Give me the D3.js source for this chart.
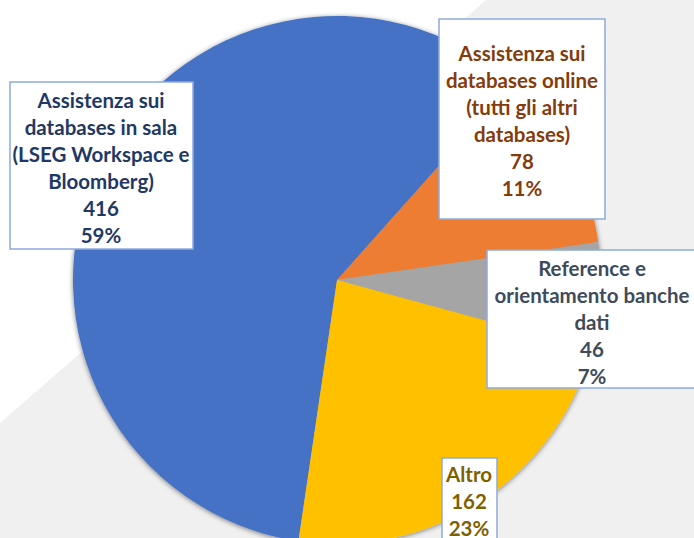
<!DOCTYPE html>
<html>
<head>
<meta charset="utf-8">
<script src="https://cdn.jsdelivr.net/npm/d3@7"></script>
<style>
  body { margin: 0; background: #fff; }
  svg { display: block; }
</style>
</head>
<body>
<script>
// dati del grafico
const categories = [
  "Assistenza sui databases in sala (LSEG Workspace e Bloomberg)",
  "Assistenza sui databases online (tutti gli altri databases)",
  "Reference e orientamento banche dati",
  "Altro"
];
const values = [416, 78, 46, 162];
const labelLines = [
  ["Assistenza sui", "databases in sala", "(LSEG Workspace e", "Bloomberg)"],
  ["Assistenza sui", "databases online", "(tutti gli altri", "databases)"],
  ["Reference e", "orientamento banche", "dati"],
  ["Altro"]
];

const colors = ["#4472c4", "#ed7d31", "#a5a5a5", "#ffc000"];
const textColors = ["#1f3864", "#843c0c", "#3e4b5c", "#7f6000"];

// posizione dei box delle etichette (spostati a mano come in Excel)
const boxes = [
  {x: 10, y: 82, w: 183, h: 167, cx: 101, top: 100},
  {x: 439, y: 19, w: 166, h: 200, cx: 522, top: 53},
  {x: 487, y: 250, w: 215, h: 138, cx: 592, top: 268},
  {x: 442, y: 458, w: 55, h: 100, cx: 469, top: 474}
];

const W = 694, H = 538;
const cx = 337, cy = 280, r = 264;
const lineH = 26.9;

const svg = d3.select("body").append("svg").attr("width", W).attr("height", H);

// sfondo della slide
svg.append("rect").attr("width", W).attr("height", H).attr("fill", "#f0f0f0");
svg.append("path").attr("d", "M0,0 L486,0 L0,423 Z").attr("fill", "#ffffff");

const defs = svg.append("defs");
const f = defs.append("filter").attr("id", "shadow")
  .attr("x", "-10%").attr("y", "-10%").attr("width", "120%").attr("height", "120%");
f.append("feDropShadow").attr("dx", 0).attr("dy", 1).attr("stdDeviation", 2.5)
  .attr("flood-color", "#000").attr("flood-opacity", 0.5);

const total = d3.sum(values);
const pie = d3.pie().sort(null)
  .startAngle(-171.6 * Math.PI / 180)
  .endAngle((360 - 171.6) * Math.PI / 180);
const arcs = pie(values);
const arc = d3.arc().innerRadius(0).outerRadius(r);

const g = svg.append("g").attr("transform", `translate(${cx},${cy})`);
g.append("g").attr("filter", "url(#shadow)")
  .selectAll("path").data(arcs).join("path")
  .attr("d", arc)
  .attr("fill", (d, i) => colors[i]);

// etichette
const pct = d3.format(".0%");
const lab = svg.append("g").selectAll("g").data(arcs).join("g");

lab.append("rect")
  .attr("x", (d, i) => boxes[i].x)
  .attr("y", (d, i) => boxes[i].y)
  .attr("width", (d, i) => boxes[i].w)
  .attr("height", (d, i) => boxes[i].h)
  .attr("fill", "#fff")
  .attr("stroke", "#8eaadb")
  .attr("stroke-width", 1.5);

lab.each(function (d, i) {
  const lines = labelLines[i].concat([String(values[i]), pct(values[i] / total)]);
  d3.select(this).selectAll("text").data(lines).join("text")
    .attr("x", boxes[i].cx)
    .attr("y", (t, j) => boxes[i].top + j * lineH)
    .attr("text-anchor", "middle")
    .attr("dominant-baseline", "central")
    .attr("font-family", "Lato, 'Open Sans', sans-serif")
    .attr("font-weight", "bold")
    .attr("font-size", 20.5)
    .attr("fill", textColors[i])
    .text(t => t);
});
</script>
</body>
</html>
